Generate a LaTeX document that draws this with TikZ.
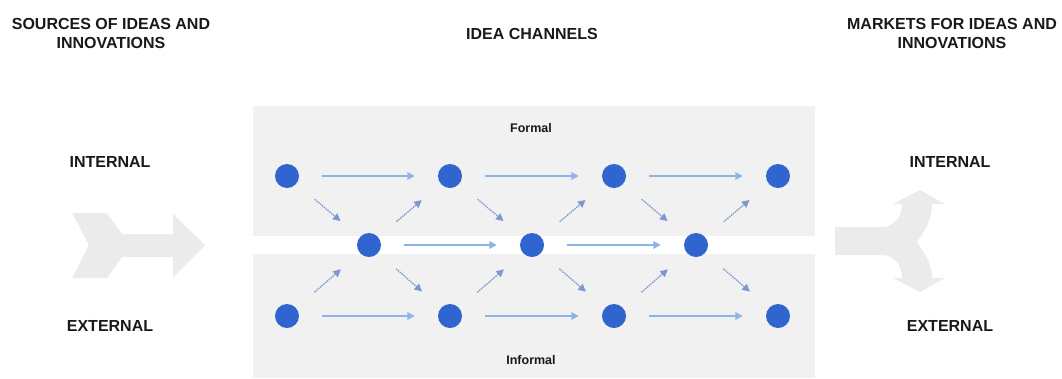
\documentclass[tikz,border=0pt]{standalone}
\usepackage{fontspec}
\setmainfont{Liberation Sans}
\usepackage{tikz}
\usetikzlibrary{arrows.meta}
\definecolor{panelgray}{HTML}{F1F1F1}
\definecolor{arrowgray}{HTML}{EBEBEB}
\definecolor{dotblue}{HTML}{3065CF}
\definecolor{flowblue}{HTML}{8DB4E6}
\definecolor{crossblue}{HTML}{7C98D2}

\begin{document}
\begin{tikzpicture}[x=1pt,y=-1pt,>={Triangle[length=7.5pt,width=7.5pt]},
  dot/.style={circle,fill=dotblue,minimum size=24pt,inner sep=0pt},
  flow/.style={->,flowblue,line width=1.8pt,shorten <=23pt,shorten >=23pt},
  cross/.style={->,crossblue,densely dotted,line width=1.4pt,shorten <=24pt,shorten >=25pt},
  head/.style={font=\fontsize{16}{19}\selectfont\bfseries,text=black!90,align=center},
  small/.style={font=\fontsize{12.5}{15}\selectfont\bfseries,text=black!90}]
\useasboundingbox (0,0) rectangle (1062,378);
% Panels
\fill[panelgray] (253,106) rectangle (815,236);
\fill[panelgray] (253,254) rectangle (815,378);
% Headings
\node[head] (src) at (111,33) {SOURCES OF IDEAS AND\\INNOVATIONS};
\node[head] (chan) at (532,34) {IDEA CHANNELS};
\node[head] (mkt) at (952,33) {MARKETS FOR IDEAS AND\\INNOVATIONS};
\node[head] (srcint) at (110,162) {INTERNAL};
\node[head] (srcext) at (110,326) {EXTERNAL};
\node[head] (mktint) at (950,162) {INTERNAL};
\node[head] (mktext) at (950,326) {EXTERNAL};
\node[small] (formal) at (531,128) {Formal};
\node[small] (informal) at (531,360) {Informal};
% Incoming arrow
\fill[arrowgray] (72,213) -- (107,213) -- (122,234) -- (173,234) -- (173,214) -- (205,245)
  -- (173,277) -- (173,257) -- (122,257) -- (107,278) -- (72,278) -- (89,245) -- cycle;
% Outgoing split arrow
\fill[arrowgray] (835,227) -- (885,227) .. controls (897,224) and (902,215) .. (902,204)
  -- (893,204) -- (920,190) -- (945,204) -- (932,204)
  .. controls (932,222) and (922,234) .. (917,242)
  .. controls (922,250) and (932,262) .. (932,278)
  -- (945,278) -- (920,292) -- (893,278) -- (902,278)
  .. controls (902,267) and (897,258) .. (885,255) -- (835,255) -- cycle;
% Nodes
\node[dot] (t1) at (287,176) {};
\node[dot] (t2) at (450,176) {};
\node[dot] (t3) at (614,176) {};
\node[dot] (t4) at (778,176) {};
\node[dot] (m1) at (369,245) {};
\node[dot] (m2) at (532,245) {};
\node[dot] (m3) at (696,245) {};
\node[dot] (b1) at (287,316) {};
\node[dot] (b2) at (450,316) {};
\node[dot] (b3) at (614,316) {};
\node[dot] (b4) at (778,316) {};
% Straight flows
\draw[flow] (t1) -- (t2);
\draw[flow] (t2) -- (t3);
\draw[flow] (t3) -- (t4);
\draw[flow] (m1) -- (m2);
\draw[flow] (m2) -- (m3);
\draw[flow] (b1) -- (b2);
\draw[flow] (b2) -- (b3);
\draw[flow] (b3) -- (b4);
% Cross flows
\foreach \a/\b in {t1/m1,m1/t2,t2/m2,m2/t3,t3/m3,m3/t4,b1/m1,m1/b2,b2/m2,m2/b3,b3/m3,m3/b4}
  \draw[cross] (\a) -- (\b);
\end{tikzpicture}
\end{document}
